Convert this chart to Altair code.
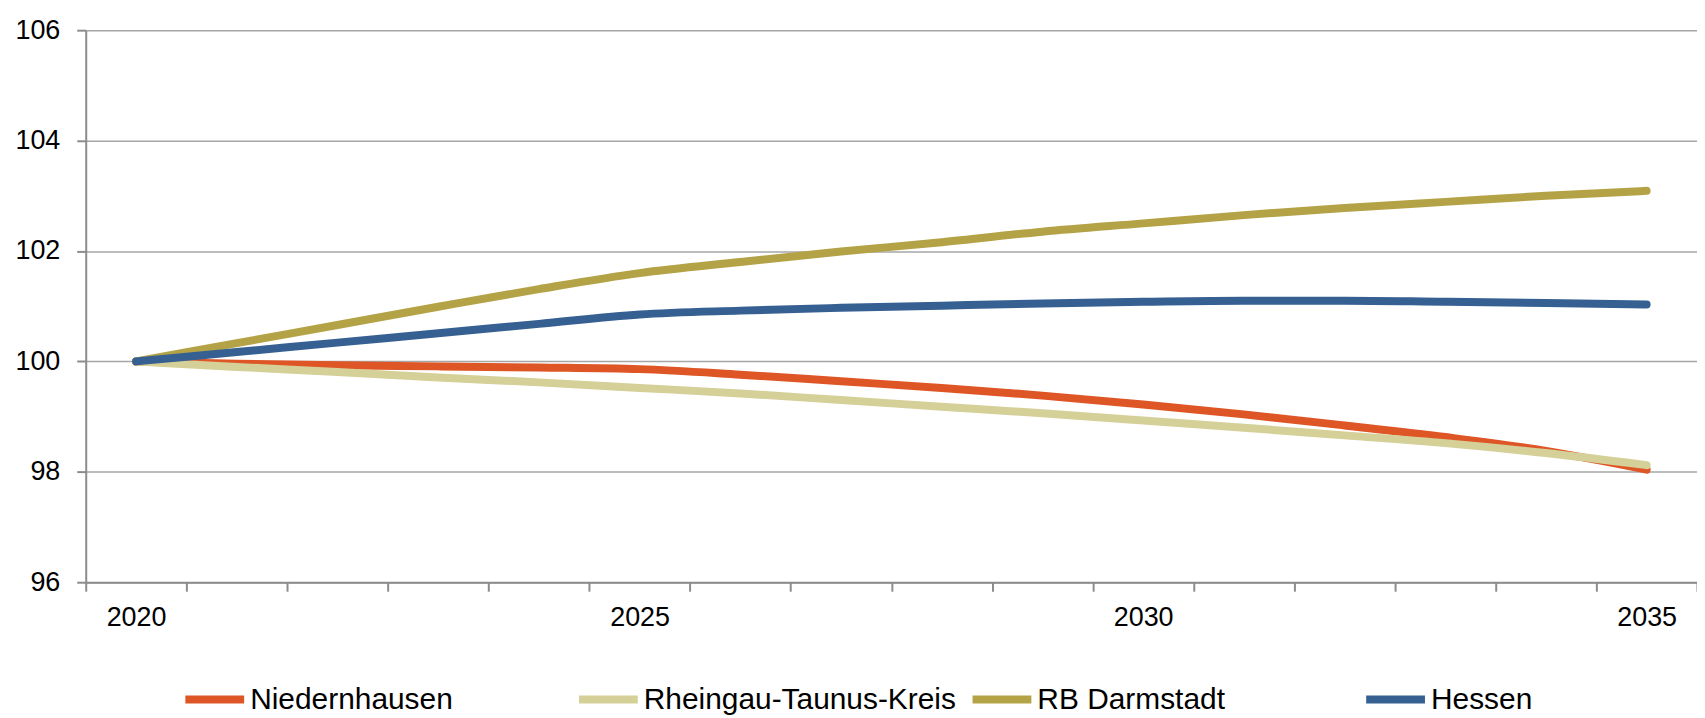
import altair as alt
import pandas as pd

years = ["2020", "2021", "2022", "2023", "2024", "2025", "2026", "2027",
         "2028", "2029", "2030", "2031", "2032", "2033", "2034", "2035"]
shown_labels = ["2020", "2025", "2030", "2035"]

names = ["Niedernhausen", "Rheingau-Taunus-Kreis", "RB Darmstadt", "Hessen"]
colors = ["#DE5626", "#D5CF98", "#B4A346", "#356091"]

niedernhausen = [100.0, 99.96, 99.93, 99.91, 99.89, 99.86, 99.76, 99.64,
                 99.52, 99.38, 99.22, 99.04, 98.84, 98.63, 98.38, 98.04]
rheingau = [100.0, 99.90, 99.81, 99.71, 99.62, 99.52, 99.42, 99.30,
            99.18, 99.06, 98.93, 98.80, 98.66, 98.52, 98.34, 98.12]
darmstadt = [100.0, 100.33, 100.66, 100.99, 101.31, 101.60, 101.80, 101.99,
             102.16, 102.35, 102.50, 102.65, 102.78, 102.89, 103.00, 103.09]
hessen = [100.0, 100.17, 100.34, 100.51, 100.68, 100.85, 100.92, 100.97,
          101.01, 101.05, 101.08, 101.10, 101.10, 101.08, 101.06, 101.03]

y_ticks = [96, 98, 100, 102, 104, 106]

series = [niedernhausen, rheingau, darmstadt, hessen]
rows = []
for name, vals in zip(names, series):
    for yr, v in zip(years, vals):
        rows.append({"Jahr": yr, "Wert": v, "Reihe": name})
df = pd.DataFrame(rows)

FONT = "Liberation Sans Narrow, Arial Narrow, Liberation Sans, Arial, sans-serif"
AXIS_COLOR = "#8C8C8C"
GRID_COLOR = "#A6A6A6"

label_expr = "indexof(" + str(shown_labels) + ", datum.label) >= 0 ? datum.label : ''"

chart = alt.Chart(df).mark_line(
    interpolate="monotone", strokeWidth=8, strokeCap="round", strokeJoin="round"
).encode(
    x=alt.X(
        "Jahr:O",
        sort=years,
        scale=alt.Scale(type="band", paddingInner=0, paddingOuter=0),
        axis=alt.Axis(
            title=None, labelAngle=0, tickBand="extent", labelExpr=label_expr,
            grid=False, tickSize=9, tickWidth=2, tickColor=AXIS_COLOR,
            domainColor=AXIS_COLOR, domainWidth=2, labelFont=FONT,
            labelFontSize=27, labelColor="#000000", labelPadding=13,
        ),
    ),
    y=alt.Y(
        "Wert:Q",
        scale=alt.Scale(domain=[96, 106], nice=False, zero=False),
        axis=alt.Axis(
            title=None, values=y_ticks, grid=True, gridColor=GRID_COLOR,
            gridWidth=1.5, tickSize=9, tickWidth=2, tickColor=AXIS_COLOR,
            domainColor=AXIS_COLOR, domainWidth=2, labelFont=FONT,
            labelFontSize=27, labelColor="#000000", labelPadding=17,
        ),
    ),
    color=alt.Color(
        "Reihe:N",
        sort=names,
        scale=alt.Scale(domain=names, range=colors),
        legend=alt.Legend(
            title=None, orient="none", legendX=96, legendY=638,
            direction="horizontal", columns=4, gridAlign="all",
            symbolType="stroke", symbolSize=3481, symbolStrokeWidth=8,
            labelFont=FONT, labelFontSize=30, labelColor="#000000",
            labelOffset=2, columnPadding=0, labelLimit=500, padding=0,
        ),
    ),
).properties(
    width=1617,
    height=554,
    autosize=alt.AutoSizeParams(type="none"),
    padding={"left": 78, "top": 21, "right": 0, "bottom": 135},
).configure_view(stroke=None)

chart.save("out.html", embed_options={"renderer": "svg", "actions": False})
